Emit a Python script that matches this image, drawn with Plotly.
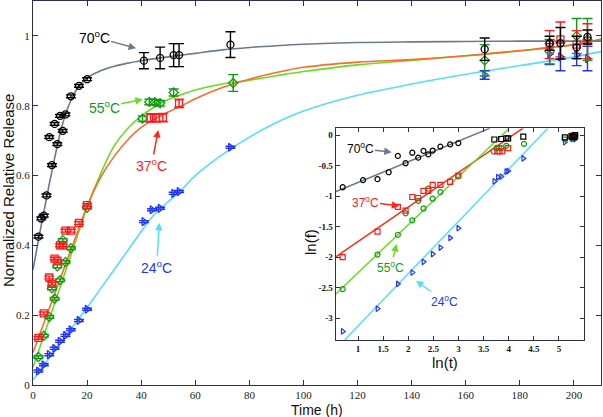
import numpy as np
import plotly.graph_objects as go

# ---------------- data ----------------
# 70 C (black circles)
t70 = [2, 3, 4, 5, 6, 7, 8, 9, 10, 11, 12, 14, 17, 20, 41, 47, 52, 54, 73, 167, 191, 195, 201, 205]
f70 = [0.425, 0.477, 0.485, 0.543, 0.71, 0.63, 0.748, 0.69, 0.771, 0.728, 0.775, 0.827, 0.857, 0.876,
       0.929, 0.937, 0.945, 0.945, 0.975, 0.962, 0.979, 0.979, 0.967, 0.997]
e70 = [0.004] * 14 + [0.023, 0.031, 0.033, 0.033, 0.037, 0.032, 0.02, 0.045, 0.032, 0.02]

# 37 C (red squares)
t37 = [2, 4, 6, 7, 8, 9, 10, 11, 12, 14, 17, 20, 43.5, 45.5, 48, 54, 191, 195, 201, 205]
f37 = [0.135, 0.205, 0.308, 0.29, 0.362, 0.356, 0.4, 0.4, 0.442, 0.442, 0.464, 0.515,
       0.765, 0.765, 0.766, 0.807, 0.975, 0.99, 0.975, 0.985]
e37 = [0.004] * 12 + [0.012, 0.012, 0.012, 0.012, 0.04, 0.05, 0.04, 0.05]

# 55 C (green diamonds)
t55 = [2, 4, 6, 7, 8, 9, 10, 11, 12, 14, 20, 40.5, 43, 45, 47, 52, 74, 167, 191, 201, 205]
f55 = [0.08, 0.141, 0.195, 0.277, 0.247, 0.34, 0.3, 0.415, 0.352, 0.392, 0.508,
       0.763, 0.811, 0.81, 0.807, 0.838, 0.865, 0.93, 0.955, 1.0, 0.99]
e55 = [0.004] * 11 + [0.008, 0.008, 0.008, 0.008, 0.01, 0.024, 0.045, 0.035, 0.05, 0.06]

# 24 C (blue triangles)
t24 = [2, 4, 6, 8, 10, 12, 14, 17, 20, 41, 44, 47, 52, 54, 73, 167, 191, 195, 201, 205]
f24 = [0.04, 0.058, 0.087, 0.105, 0.125, 0.142, 0.158, 0.185, 0.217,
       0.468, 0.502, 0.506, 0.549, 0.554, 0.681, 0.888, 0.948, 0.94, 0.945, 0.935]
e24 = [0.003] * 15 + [0.012, 0.03, 0.04, 0.03, 0.035]

# fitted curves (main panel)
ct = [0, 2, 4, 6, 8, 10, 12, 14, 16, 18, 20, 25, 30, 35, 40, 45, 50, 55, 60, 70, 80, 90,
      100, 120, 140, 160, 180, 200, 210]
c70 = [0.33, 0.415, 0.495, 0.575, 0.65, 0.72, 0.775, 0.815, 0.845, 0.865, 0.88, 0.9, 0.913,
       0.922, 0.929, 0.935, 0.94, 0.945, 0.95, 0.96, 0.967, 0.972, 0.976, 0.981, 0.983, 0.984,
       0.985, 0.985, 0.985]
c37 = [0.093, 0.135, 0.177, 0.219, 0.261, 0.303, 0.345, 0.387, 0.428, 0.47, 0.512, 0.595,
       0.655, 0.702, 0.738, 0.762, 0.782, 0.8, 0.82, 0.852, 0.876, 0.895, 0.91, 0.925, 0.932,
       0.943, 0.958, 0.975, 0.99]
c55 = [0.05, 0.096, 0.142, 0.188, 0.234, 0.28, 0.326, 0.372, 0.418, 0.464, 0.51, 0.605,
       0.685, 0.735, 0.77, 0.797, 0.818, 0.832, 0.845, 0.862, 0.873, 0.886, 0.898, 0.917, 0.93,
       0.943, 0.957, 0.975, 0.99]
c24 = [0.015, 0.036, 0.056, 0.077, 0.097, 0.118, 0.139, 0.159, 0.18, 0.201, 0.222, 0.276,
       0.33, 0.385, 0.44, 0.49, 0.525, 0.56, 0.6, 0.66, 0.71, 0.752, 0.785, 0.83, 0.862, 0.89,
       0.915, 0.94, 0.955]

# inset linear fits: ln(t) end points and ln(f) end points
fit_x70 = [0.55, 3.62]; fit_y70 = [-0.93, 0.11]
fit_x37 = [0.55, 4.28]; fit_y37 = [-2.0, 0.11]
fit_x55 = [0.55, 4.01]; fit_y55 = [-2.61, 0.11]
fit_x24 = [0.73, 4.78]; fit_y24 = [-3.36, 0.11]

xticks_main = [0, 20, 40, 60, 80, 100, 120, 140, 160, 180, 200]
yticks_main = [0, 0.2, 0.4, 0.6, 0.8, 1]
yticktext_main = ["0", "0.2", "0.4", "0.6", "0.8", "1"]
xticks_in = [1, 1.5, 2, 2.5, 3, 3.5, 4, 4.5, 5]
yticks_in = [0, -0.5, -1, -1.5, -2, -2.5, -3]
yticktext_in = ["0", "-0.5", "-1", "-1.5", "-2", "-2.5", "-3"]

# ---------------- styling ----------------
BLACK = "#000000"
RED = "#ff1a1a"
GREEN = "#129a12"
BLUE = "#2233ff"
GREY_L = "#6b7b8b"
ORANGE_L = "#ff6a2a"
GREEN_L = "#66dd22"
CYAN_L = "#55ddff"
RED_L = "#ff2a1a"
AX = "#2e2e55"

fig = go.Figure()

# main curves
for y, c in [(c24, CYAN_L), (c55, GREEN_L), (c37, ORANGE_L), (c70, GREY_L)]:
    fig.add_trace(go.Scatter(x=ct, y=y, mode="lines", line=dict(color=c, width=1.6, shape="spline"),
                             hoverinfo="skip", showlegend=False))

# main markers with error bars
series = [
    (t24, f24, e24, BLUE, "triangle-right-open"),
    (t55, f55, e55, GREEN, "diamond-open"),
    (t37, f37, e37, RED, "square-open"),
    (t70, f70, e70, BLACK, "circle-open"),
]
for t, f, e, c, sym in series:
    fig.add_trace(go.Scatter(
        x=t, y=f, mode="markers",
        marker=dict(symbol=sym, size=7, color=c, line=dict(color=c, width=1.3)),
        error_y=dict(type="data", array=e, visible=True, color=c, thickness=1.4, width=5),
        showlegend=False))

# inset fit lines
for fx, fy, c in [(fit_x70, fit_y70, GREY_L), (fit_x37, fit_y37, RED_L),
                  (fit_x55, fit_y55, GREEN_L), (fit_x24, fit_y24, CYAN_L)]:
    fig.add_trace(go.Scatter(x=fx, y=fy, mode="lines", line=dict(color=c, width=1.5),
                             xaxis="x2", yaxis="y2", showlegend=False))

# inset markers (ln of the same data)
sym70 = ["circle-open" if t <= 20 else "square-open" for t in t70]
inset_series = [
    (t24, f24, BLUE, "triangle-right-open"),
    (t55, f55, GREEN, "circle-open"),
    (t37, f37, RED, "square-open"),
    (t70, f70, BLACK, sym70),
]
for t, f, c, sym in inset_series:
    fig.add_trace(go.Scatter(
        x=np.log(t), y=np.log(f), mode="markers",
        marker=dict(symbol=sym, size=5, color=c, line=dict(color=c, width=1.2)),
        xaxis="x2", yaxis="y2", showlegend=False))

serif = "Liberation Serif, Times New Roman, serif"
sans = "Liberation Sans, Arial, sans-serif"

axis_common = dict(showline=True, linecolor=AX, linewidth=1, mirror="ticks", ticks="inside",
                   tickcolor=AX, showgrid=False, zeroline=False)

fig.update_layout(
    width=603, height=417,
    margin=dict(l=33, r=2, t=1, b=32, autoexpand=False),
    paper_bgcolor="white", plot_bgcolor="white",
    xaxis=dict(range=[0, 210], tickvals=xticks_main, ticklen=5, automargin=False,
               tickfont=dict(family=serif, size=11, color="#222"), **axis_common),
    yaxis=dict(range=[0, 1.1], tickvals=yticks_main, ticktext=yticktext_main, ticklen=5,
               automargin=False,
               tickfont=dict(family=serif, size=11, color="#222"), **axis_common),
    xaxis2=dict(domain=[0.5326, 0.9701], anchor="y2", range=[0.55, 5.5], tickvals=xticks_in,
                ticklen=4, automargin=False,
                tickfont=dict(family=serif, size=9, color="#111", weight="bold"),
                **axis_common),
    yaxis2=dict(domain=[0.1172, 0.6685], anchor="x2", range=[-3.36, 0.11], tickvals=yticks_in,
                ticktext=yticktext_in, ticklen=4, automargin=False,
                tickfont=dict(family=serif, size=9, color="#111", weight="bold"), **axis_common),
    showlegend=False,
)

ann = []
# axis titles
ann.append(dict(text="Time (h)", xref="paper", yref="paper", x=(317 - 33) / 568, y=-(410 - 385) / 384,
                showarrow=False, font=dict(family=sans, size=14, color="#111"), yanchor="middle"))
ann.append(dict(text="Normalized Relative Release", xref="paper", yref="paper",
                x=-(33 - 8) / 568, y=(385 - 191) / 384, textangle=-90, showarrow=False,
                font=dict(family=sans, size=15, color="#111"), xanchor="center", yanchor="middle"))
ann.append(dict(text="ln(t)", xref="paper", yref="paper", x=(460 - 33) / 568, y=(385 - 362) / 384,
                showarrow=False, font=dict(family=sans, size=15, color="#111"), yanchor="middle"))
ann.append(dict(text="ln(f)", xref="paper", yref="paper", x=(310 - 33) / 568, y=(385 - 242) / 384,
                textangle=-90, showarrow=False, font=dict(family=sans, size=15, color="#111"),
                xanchor="center", yanchor="middle"))

# main labels with arrows
main_labels = [
    ("70<sup>o</sup>C", BLACK, GREY_L, 38.1, 0.9645, -42, -11.6),
    ("55<sup>o</sup>C", GREEN, GREEN_L, 40.6, 0.8184, -38.7, 8),
    ("37<sup>o</sup>C", RED, RED_L, 46.3, 0.7305, -6.6, 35),
    ("24<sup>o</sup>C", BLUE, CYAN_L, 46.7, 0.465, -2.6, 44),
]
for txt, tc, ac, x, y, ax, ay in main_labels:
    ann.append(dict(text=txt, x=x, y=y, xref="x", yref="y", ax=ax, ay=ay, showarrow=True,
                    arrowhead=2, arrowsize=1, arrowwidth=1.5, arrowcolor=ac,
                    font=dict(family=sans, size=14, color=tc)))

inset_labels = [
    ("70<sup>o</sup>C", BLACK, GREY_L, 1.67, -0.283, -31.7, -4),
    ("37<sup>o</sup>C", RED, RED_L, 1.821, -1.164, -34.3, -4.3),
    ("55<sup>o</sup>C", GREEN, GREEN_L, 1.769, -1.787, -6, 22.7),
    ("24<sup>o</sup>C", BLUE, CYAN_L, 2.154, -2.388, 28, 20.3),
]
for txt, tc, ac, x, y, ax, ay in inset_labels:
    ann.append(dict(text=txt, x=x, y=y, xref="x2", yref="y2", ax=ax, ay=ay, showarrow=True,
                    arrowhead=2, arrowsize=1, arrowwidth=1.5, arrowcolor=ac,
                    font=dict(family=sans, size=12, color=tc)))

fig.update_layout(annotations=ann)
fig.write_html("out.html", config={"displayModeBar": False},
               post_script="document.body.style.margin='0px';document.body.style.padding='0px';")
